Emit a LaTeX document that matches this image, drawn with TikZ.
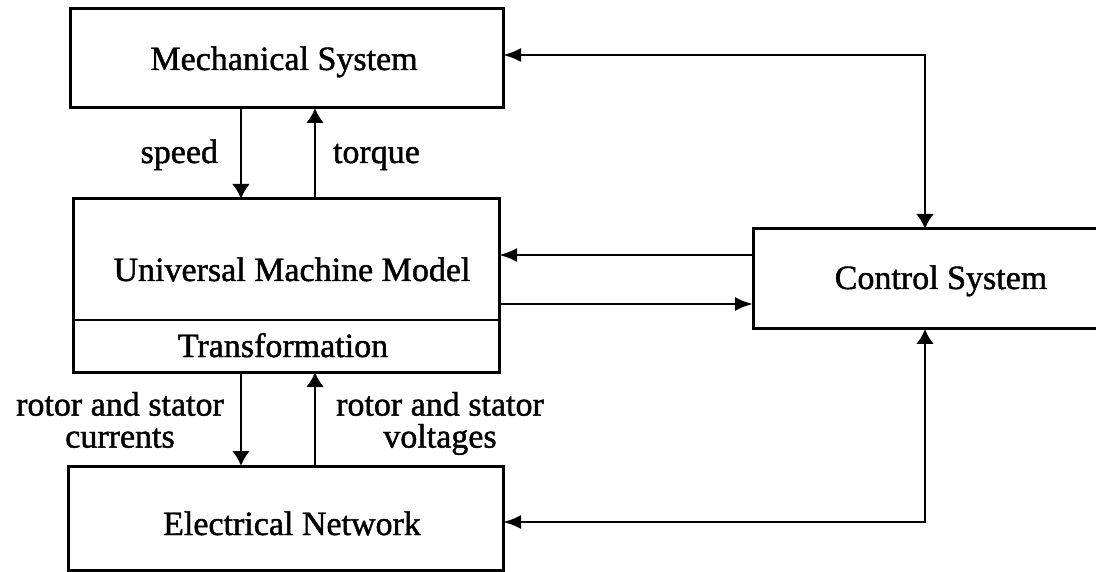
\documentclass[tikz,border=0pt]{standalone}
\usepackage{fontspec}
\setmainfont[FakeBold=1.3]{Liberation Serif}
\usetikzlibrary{arrows.meta,calc}
\begin{document}
\begin{tikzpicture}[x=1pt,y=-1pt,
  box/.style={draw=black,line width=3pt,rectangle,inner sep=0pt,outer sep=0pt},
  txt/.style={inner sep=0pt,outer sep=0pt,font=\fontsize{34}{32}\selectfont},
  conn/.style={line width=2.8pt},
  vtip/.tip={Latex[length=15pt,width=18pt]},
  htip/.tip={Latex[length=18pt,width=14pt]}]
\useasboundingbox (0,0) rectangle (1096,572);
\clip (0,0) rectangle (1096,572);
% boxes
\node[box,minimum width=433pt,minimum height=99pt] (mech) at (286.5,58.5) {};
\node[box,minimum width=426pt,minimum height=173pt] (umm) at (286,285.5) {};
\node[box,minimum width=435pt,minimum height=104pt] (en) at (285.5,518) {};
\node[box,minimum width=387pt,minimum height=100pt] (ctrl) at (946.5,279) {};
\draw[line width=1.8pt] ([yshift=52pt]umm.south west) -- ([yshift=52pt]umm.south east);
% texts
\node[txt,anchor=base] (tmech) at (284,70) {Mechanical System};
\node[txt,anchor=base] (tumm) at (292,281) {Universal Machine Model};
\node[txt,anchor=base] (ttrans) at (283,357) {Transformation};
\node[txt,anchor=base] (ten) at (292,535) {Electrical Network};
\node[txt,anchor=base] (tctrl) at (941,289) {Control System};
\node[txt,anchor=base east] (lspeed) at (218,163) {speed};
\node[txt,anchor=base west] (ltorque) at (333,163) {torque};
\node[txt,anchor=north,align=center] (lcur) at (120,392) {rotor and stator\\currents};
\node[txt,anchor=north,align=center] (lvol) at (440,392) {rotor and stator\\voltages};
% helper coordinates
\coordinate (sx) at (241,0);
\coordinate (tx) at (315,0);
\coordinate (cx) at (925,0);
\coordinate (ym) at (0,55);
\coordinate (ya) at (0,255);
\coordinate (yb) at (0,304);
\coordinate (yc) at (0,522);
% connectors
\draw[conn,-vtip] (mech.south -| sx) -- (umm.north -| sx);
\draw[conn,-vtip] (umm.north -| tx) -- (mech.south -| tx);
\draw[conn,-vtip] (umm.south -| sx) -- (en.north -| sx);
\draw[conn,-vtip] (en.north -| tx) -- (umm.south -| tx);
\draw[conn,-htip] (ctrl.west |- ya) -- (umm.east |- ya);
\draw[conn,-htip] (umm.east |- yb) -- (ctrl.west |- yb);
\draw[conn,htip-vtip] (mech.east |- ym) -| (ctrl.north -| cx);
\draw[conn,vtip-htip] (ctrl.south -| cx) |- (en.east |- yc);
\end{tikzpicture}
\end{document}
